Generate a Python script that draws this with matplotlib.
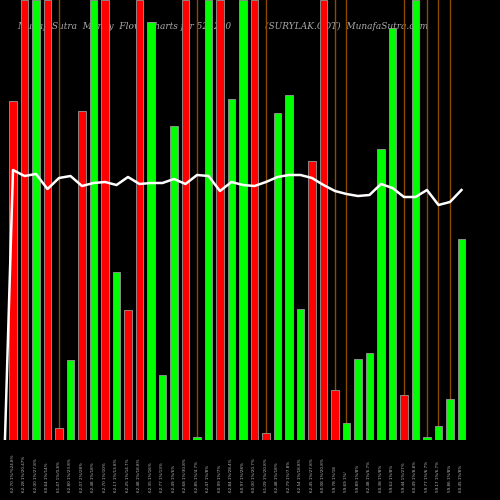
import matplotlib
matplotlib.use("Agg")
import matplotlib.pyplot as plt
import numpy as np

heights = [339,440,440,440,12,80,329,440,440,168,130,440,418,65,314,440,3,440,440,341,
           440,440,7,327,345,131,279,440,50,17,81,87,291,412,45,440,3,14,41,201]
colors = ['r','r','g','r','r','g','r','g','r','g','r','r','g','g','g','r','g','g','r','g',
          'g','r','r','g','g','g','r','r','r','g','g','g','g','g','r','g','g','g','g','g']
line_y = [170,176,174,189,178,176,186,183,182,185,177,184,183,183,179,184,175,176,191,182,
          185,186,182,177,175,175,178,185,191,194,196,195,184,188,197,197,190,205,202,190]
line_start = 0
orange_idx = [4,16,22,27,28,29,34,36,37,38]
labels = ["62.70 1%/%24.8%","62.28 1%/20.47%","62.00 1%/27.8%","60.64 1%/14%","61.47 1%/0.8%",
          "62.80 1%/23.8%","62.07 2%/28%","62.48 1%/18%","62.70 1%/10%","62.17 1%/13.8%",
          "62.25 1%/14.7%","62.48 1%/18.8%","62.35 1%/16%","62.77 1%/13%","62.49 1%/6%",
          "62.68 1%/30.8%","62.85 1%/4.7%","62.47 1%/8%","60.99 1%/7%","62.84 1%/28.4%",
          "60.97 1%/28%","60.00 1%/20.7%","61.09 1%/20.8%","62.48 1%/18%","62.79 1%/7.8%",
          "62.54 1%/18.8%","62.45 1%/27.8%","60.08 1%/20.8%","59.78 1%/18","59.69 1%/","59.89 1%/8%",
          "62.48 1%/6.7%","60.38 1%/8%","59.62 1%/8%","59.44 1%/27%","60.49 1%/8.8%",
          "59.77 1%/6.7%","59.17 1%/6.7%","59.86 1%/8%","60.45 1%/8%"]

cmap = {'r':'#ff0000','g':'#00ff00'}
fig = plt.figure(figsize=(5,5), dpi=100, facecolor='black')
ax = fig.add_axes([0,0.12,1,0.88])
ax.set_facecolor('black')
x = np.arange(len(heights))
ax.text(0.035, 0.94, "MunafaSutra  Money  Flow  Charts for 521200", color='#aaaaaa', fontsize=6.5,
        family='DejaVu Serif', style='italic', va='center', transform=ax.transAxes, zorder=0)
ax.text(0.53, 0.94, "(SURYLAK.COT)  MunafaSutra.com", color='#aaaaaa', fontsize=6.5,
        family='DejaVu Serif', style='italic', va='center', transform=ax.transAxes, zorder=0)
for i in orange_idx:
    ax.plot([i,i],[heights[i],440], color='#8a4a00', lw=1, zorder=1)
ax.bar(x, heights, width=0.62, color=[cmap[c] for c in colors], edgecolor='#999999', lw=0.6, zorder=2)
ax.plot(np.r_[-0.7, x], np.r_[line_start, [440-v for v in line_y]], color='white', lw=1.8, zorder=3)
ax.set_xlim(-1.13, 42.35)
ax.set_ylim(0, 440)
ax.axis('off')
for i, lab in enumerate(labels):
    fig.text((i+1.13)/43.48, 0.015, lab, rotation=90, ha='center', va='bottom', color='#bbbbbb', fontsize=3)
fig.savefig("out.png", facecolor='black')
